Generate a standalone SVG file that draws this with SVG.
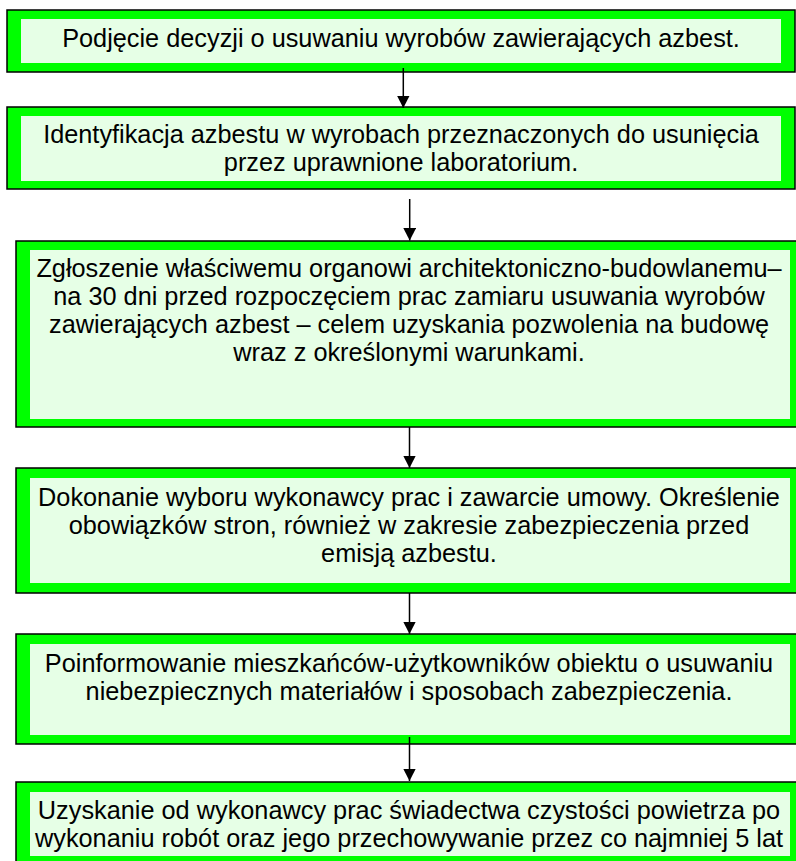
<svg xmlns="http://www.w3.org/2000/svg" width="796" height="861" viewBox="0 0 796 861">
<style>
  .outer { fill: #00FF00; stroke: #000000; stroke-width: 1.5; }
  .inner { fill: #E6FFE6; stroke: none; }
  .lbl { font-family: "Liberation Sans", Arial, sans-serif; font-size: 25.3px; fill: #000000; text-anchor: middle; }
  .conn { stroke: #000000; stroke-width: 1.5; fill: none; marker-end: url(#arrow); }
</style>
<defs>
  <marker id="arrow" markerUnits="userSpaceOnUse" markerWidth="13" markerHeight="13" refX="12.5" refY="6.4" orient="auto">
    <path d="M0,0 L12.5,6.4 L0,12.8 Z" fill="#000000"/>
  </marker>
</defs>
<rect width="796" height="861" fill="#FFFFFF"/>

<g id="node1">
  <rect class="outer" x="7" y="10" width="788" height="62"/>
  <rect class="inner" x="21" y="19" width="760" height="44"/>
  <text class="lbl" x="401" y="47">Podjęcie decyzji o usuwaniu wyrobów zawierających azbest.</text>
</g>

<g id="node2">
  <rect class="outer" x="7" y="107" width="788" height="82"/>
  <rect class="inner" x="21" y="116" width="760" height="65"/>
  <text class="lbl" x="401" y="142.5">Identyfikacja azbestu w wyrobach przeznaczonych do usunięcia</text>
  <text class="lbl" x="401" y="170.5">przez uprawnione laboratorium.</text>
</g>

<g id="node3">
  <rect class="outer" x="16" y="241" width="788" height="186"/>
  <rect class="inner" x="30" y="250" width="760" height="169"/>
  <text class="lbl" x="409" y="277">Zgłoszenie właściwemu organowi architektoniczno-budowlanemu–</text>
  <text class="lbl" x="409" y="305">na 30 dni przed rozpoczęciem prac zamiaru usuwania wyrobów</text>
  <text class="lbl" x="409" y="333">zawierających azbest – celem uzyskania pozwolenia na budowę</text>
  <text class="lbl" x="409" y="361">wraz z określonymi warunkami.</text>
</g>

<g id="node4">
  <rect class="outer" x="16" y="468" width="788" height="125"/>
  <rect class="inner" x="30" y="478" width="760" height="105"/>
  <text class="lbl" x="409" y="506">Dokonanie wyboru wykonawcy prac i zawarcie umowy. Określenie</text>
  <text class="lbl" x="409" y="534">obowiązków stron, również w zakresie zabezpieczenia przed</text>
  <text class="lbl" x="409" y="562">emisją azbestu.</text>
</g>

<g id="node5">
  <rect class="outer" x="16" y="634" width="788" height="110"/>
  <rect class="inner" x="30" y="644" width="760" height="91"/>
  <text class="lbl" x="409" y="672">Poinformowanie mieszkańców-użytkowników obiektu o usuwaniu</text>
  <text class="lbl" x="409" y="700">niebezpiecznych materiałów i sposobach zabezpieczenia.</text>
</g>

<g id="node6">
  <rect class="outer" x="16" y="782" width="788" height="84"/>
  <rect class="inner" x="30" y="792" width="760" height="64"/>
  <text class="lbl" x="409" y="819">Uzyskanie od wykonawcy prac świadectwa czystości powietrza po</text>
  <text class="lbl" x="409" y="847">wykonaniu robót oraz jego przechowywanie przez co najmniej 5 lat</text>
</g>

<g id="connectors">
  <line class="conn" x1="403.3" y1="68" x2="403.3" y2="108"/>
  <line class="conn" x1="409.7" y1="199" x2="409.7" y2="240.5"/>
  <line class="conn" x1="409.5" y1="427" x2="409.5" y2="468"/>
  <line class="conn" x1="409.5" y1="593" x2="409.5" y2="634"/>
  <line class="conn" x1="409.5" y1="737" x2="409.5" y2="781"/>
</g>
</svg>
